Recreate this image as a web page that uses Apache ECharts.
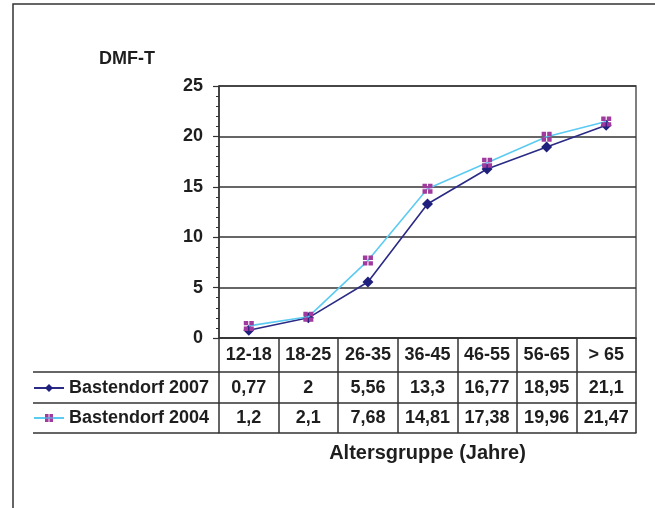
<!DOCTYPE html>
<html>
<head>
<meta charset="utf-8">
<script src="https://cdn.jsdelivr.net/npm/echarts@6/dist/echarts.min.js"></script>
<style>
html,body{margin:0;padding:0;background:#fff;}
#chart{width:655px;height:508px;}
</style>
</head>
<body>
<div id="chart"></div>
<script>
// Data
var categories = ['12-18', '18-25', '26-35', '36-45', '46-55', '56-65', '> 65'];
var series2007 = [0.77, 2, 5.56, 13.3, 16.77, 18.95, 21.1];
var series2004 = [1.2, 2.1, 7.68, 14.81, 17.38, 19.96, 21.47];
var seriesNames = ['Bastendorf 2007', 'Bastendorf 2004'];
var yTicks = [0, 5, 10, 15, 20, 25];
var yAxisName = 'DMF-T';
var xAxisName = 'Altersgruppe (Jahre)';

// Layout
var W = 655, H = 508;
var GL = 219, GR = 19, GT = 86, GB = 170;
var axisY = H - GB;          // 338
var rowOff = [34, 65, 95];   // offsets of table lines below zero line
var tableLeft = 33;
var FONT = "'Liberation Sans', Arial, Helvetica, sans-serif";
var LINE = '#333';
var TXT = '#1e1e1e';

function fmt(v) { return String(v).replace('.', ','); }

var chart = echarts.init(document.getElementById('chart'));

function tableAxis(offset, tickLen, values, margin, extra) {
  var ax = {
    type: 'category',
    data: categories,
    position: 'bottom',
    offset: offset,
    boundaryGap: true,
    axisLine: { show: true, lineStyle: { color: LINE, width: 1.5 } },
    axisTick: { show: tickLen > 0, interval: 0, length: tickLen, lineStyle: { color: LINE, width: 1.5 } },
    axisLabel: {
      show: !!values,
      interval: 0,
      margin: margin,
      color: TXT,
      fontFamily: FONT,
      fontWeight: 'bold',
      fontSize: 18,
      formatter: function (v, idx) { return values ? fmt(values[idx]) : v; }
    },
    splitLine: { show: false }
  };
  if (extra) { for (var k in extra) ax[k] = extra[k]; }
  return ax;
}

var option = {
  animation: false,
  backgroundColor: '#fff',
  grid: {
    left: GL, right: GR, top: GT, bottom: GB,
    show: true, borderColor: '#555', borderWidth: 1.5, backgroundColor: 'transparent'
  },
  legend: {
    orient: 'vertical',
    left: tableLeft,
    top: 378,
    padding: 0,
    itemWidth: 30,
    itemHeight: 10,
    itemGap: 10,
    selectedMode: false,
    textStyle: { color: TXT, fontFamily: FONT, fontWeight: 'bold', fontSize: 18, lineHeight: 20 },
    data: seriesNames
  },
  xAxis: [
    {
      type: 'category',
      data: categories,
      position: 'bottom',
      boundaryGap: true,
      axisLine: { show: true, lineStyle: { color: LINE, width: 1.5 } },
      axisTick: { show: true, interval: 0, length: rowOff[0], lineStyle: { color: LINE, width: 1.5 } },
      axisLabel: { interval: 0, margin: 8, color: TXT, fontFamily: FONT, fontWeight: 'bold', fontSize: 18 },
      splitLine: { show: false }
    },
    tableAxis(rowOff[0], rowOff[1] - rowOff[0], series2007, 7),
    tableAxis(rowOff[1], rowOff[2] - rowOff[1], series2004, 6),
    tableAxis(rowOff[2], 0, null, 0, {
      name: xAxisName,
      nameLocation: 'middle',
      nameGap: 10,
      nameTextStyle: { color: TXT, fontFamily: FONT, fontWeight: 'bold', fontSize: 20, verticalAlign: 'top' }
    })
  ],
  yAxis: {
    type: 'value',
    min: yTicks[0],
    max: yTicks[yTicks.length - 1],
    interval: yTicks[1] - yTicks[0],
    name: yAxisName,
    nameLocation: 'end',
    nameGap: 18,
    nameTextStyle: { color: TXT, fontFamily: FONT, fontWeight: 'bold', fontSize: 18, align: 'right', padding: [0, 64, 0, 0] },
    axisLine: { show: true, lineStyle: { color: LINE, width: 1.5 } },
    axisTick: { show: true, length: 6, lineStyle: { color: LINE, width: 1.2 } },
    minorTick: { show: true, splitNumber: 5, length: 3, lineStyle: { color: LINE, width: 1 } },
    axisLabel: { margin: 16, color: TXT, fontFamily: FONT, fontWeight: 'bold', fontSize: 18 },
    splitLine: { show: true, lineStyle: { color: LINE, width: 1.6 } },
    minorSplitLine: { show: false }
  },
  series: [
    {
      name: seriesNames[0],
      type: 'line',
      data: series2007,
      symbol: 'diamond',
      symbolSize: 11,
      lineStyle: { color: '#2b2b86', width: 1.6 },
      itemStyle: { color: '#1f1f7e' },
      z: 2
    },
    {
      name: seriesNames[1],
      type: 'line',
      data: series2004,
      symbol: 'path://M0,0H4V4H0Z M5,0H9V4H5Z M0,5H4V9H0Z M5,5H9V9H5Z',
      symbolSize: 10,
      lineStyle: { color: '#5ccbf2', width: 1.6 },
      itemStyle: { color: '#a03a9e' },
      z: 3
    }
  ],
  graphic: [
    {
      type: 'rect',
      shape: { x: 13, y: 4, width: W + 50, height: H + 50 },
      style: { fill: 'none', stroke: '#333', lineWidth: 1.5 },
      silent: true
    }
  ].concat(rowOff.map(function (o) {
    return {
      type: 'line',
      shape: { x1: tableLeft, y1: axisY + o, x2: GL, y2: axisY + o },
      style: { stroke: LINE, lineWidth: 1.5 },
      silent: true
    };
  }))
};

chart.setOption(option);
</script>
</body>
</html>
